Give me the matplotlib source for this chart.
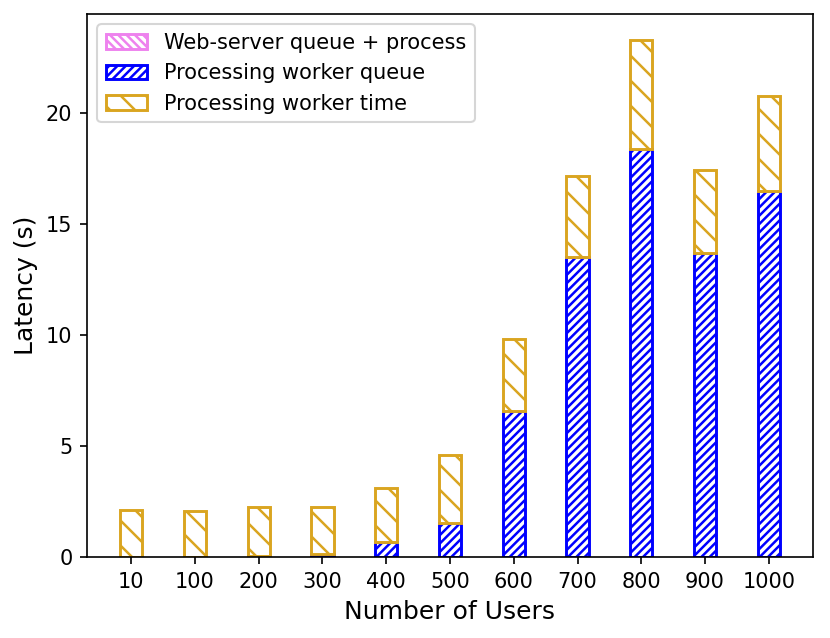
import matplotlib
matplotlib.use("Agg")
import matplotlib.pyplot as plt
import numpy as np

users = ["10", "100", "200", "300", "400", "500", "600", "700", "800", "900", "1000"]
web_server = [0.01, 0.01, 0.01, 0.01, 0.01, 0.01, 0.01, 0.01, 0.01, 0.01, 0.01]
worker_queue = [0.0, 0.0, 0.05, 0.12, 0.65, 1.5, 6.55, 13.5, 18.4, 13.7, 16.5]
worker_time = [2.1, 2.07, 2.2, 2.13, 2.45, 3.1, 3.25, 3.65, 4.9, 3.75, 4.25]

plt.rcParams['hatch.linewidth'] = 1.2

fig = plt.figure(figsize=(830 / 150, 638 / 150), dpi=150)
ax = fig.add_axes([0.1048, 0.127, 0.8747, 0.851])

x = np.arange(len(users))
width = 0.35
base = np.array(web_server)
ax.bar(x, web_server, width, color="white", edgecolor="violet", hatch="\\" * 6,
       linewidth=1.4, label="Web-server queue + process")
ax.bar(x, worker_queue, width, bottom=base, color="white", edgecolor="blue",
       hatch="/" * 6, linewidth=1.4, label="Processing worker queue")
ax.bar(x, worker_time, width, bottom=base + np.array(worker_queue), color="white",
       edgecolor="goldenrod", hatch="\\" * 2, linewidth=1.4, label="Processing worker time")

ax.set_xticks(x)
ax.set_xticklabels(users)
ax.set_xlabel("Number of Users", fontsize=12)
ax.set_ylabel("Latency (s)", fontsize=12)
ax.legend(loc="upper left")

fig.savefig("out.png", dpi=150)
